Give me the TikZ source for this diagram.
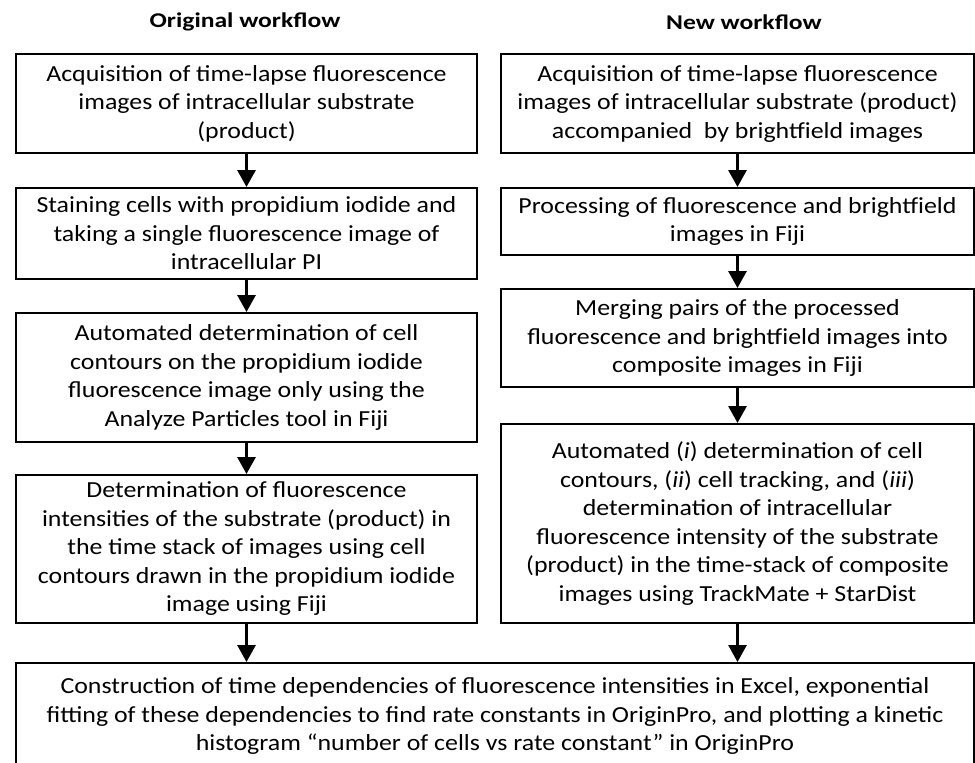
\documentclass[tikz,border=0pt]{standalone}
\usepackage{fontspec}
\setmainfont{Carlito}[FakeStretch=1.125]
\newfontfamily\ttlfont{Carlito}[FakeStretch=1.22]
\usetikzlibrary{arrows.meta}
\tikzset{
  box/.style={draw, line width=2pt, rectangle, anchor=north west, align=center,
    inner sep=0pt, font=\fontsize{23}{28.5}\selectfont},
  arr/.style={line width=3pt, -{Triangle[width=18pt,length=17pt]}, shorten <=-1pt},
  ttl/.style={font=\ttlfont\fontsize{21}{25}\selectfont\bfseries, inner sep=0pt}
}
\begin{document}
\begin{tikzpicture}[x=1pt,y=-1pt]
\useasboundingbox (0,0) rectangle (975,763);
\clip (0,0) rectangle (975,763);
\node[ttl] (t1) at (245,22) {Original workflow};
\node[ttl] (t2) at (744,22) {New workflow};

\node[box, minimum width=461, minimum height=99] (L1) at (15,53)
  {Acquisition of time-lapse fluorescence\\images of intracellular substrate\\(product)};
\node[box, minimum width=461, minimum height=91] (L2) at (15,187)
  {Staining cells with propidium iodide and\\taking a single fluorescence image of\\intracellular PI};
\node[box, minimum width=461, minimum height=129] (L3) at (15,312)
  {Automated determination of cell\\contours on the propidium iodide\\fluorescence image only using the\\Analyze Particles tool in Fiji};
\node[box, minimum width=461, minimum height=148] (L4) at (15,474)
  {Determination of fluorescence\\intensities of the substrate (product) in\\the time stack of images using cell\\contours drawn in the propidium iodide\\image using Fiji};

\node[box, minimum width=473, minimum height=99] (R1) at (500,53)
  {Acquisition of time-lapse fluorescence\\images of intracellular substrate (product)\\accompanied\ \ by brightfield images};
\node[box, minimum width=473, minimum height=67] (R2) at (500,187)
  {Processing of fluorescence and brightfield\\images in Fiji};
\node[box, minimum width=473, minimum height=98] (R3) at (500,288)
  {Merging pairs of the processed\\fluorescence and brightfield images into\\composite images in Fiji};
\node[box, minimum width=473, minimum height=199] (R4) at (500,423)
  {Automated (\textit{i}) determination of cell\\contours, (\textit{ii}) cell tracking, and (\textit{iii})\\determination of intracellular\\fluorescence intensity of the substrate\\(product) in the time-stack of composite\\images using TrackMate + StarDist};

\node[box, minimum width=958, minimum height=106] (B) at (15,662)
  {Construction of time dependencies of fluorescence intensities in Excel, exponential\\fitting of these dependencies to find rate constants in OriginPro, and plotting a kinetic\\histogram “number of cells vs rate constant” in OriginPro};

\draw[arr] (L1.south) -- (L2.north);
\draw[arr] (L2.south) -- (L3.north);
\draw[arr] (L3.south) -- (L4.north);
\draw[arr] (R1.south) -- (R2.north);
\draw[arr] (R2.south) -- (R3.north);
\draw[arr] (R3.south) -- (R4.north);
\draw[arr] (L4.south) -- (L4.south |- B.north);
\draw[arr] (R4.south) -- (R4.south |- B.north);
\end{tikzpicture}
\end{document}
